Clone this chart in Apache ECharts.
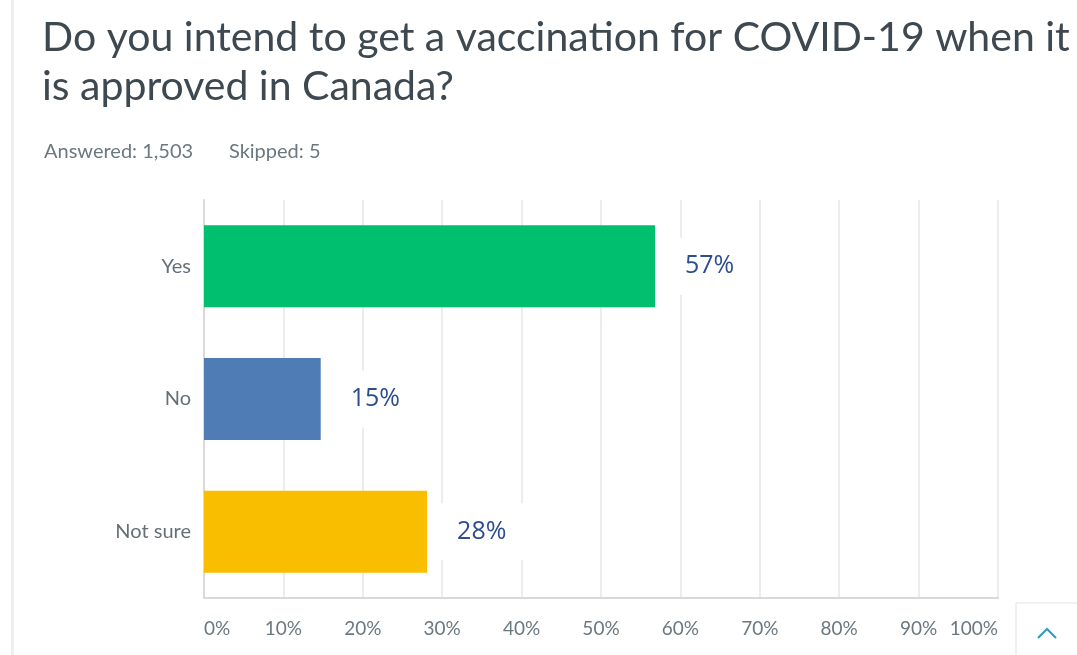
<!DOCTYPE html>
<html>
<head>
<meta charset="utf-8">
<script src="https://cdn.jsdelivr.net/npm/echarts@6/dist/echarts.min.js"></script>
<style>
  html, body { margin: 0; padding: 0; background: #fff; }
  #main { width: 1077px; height: 655px; }
</style>
</head>
<body>
<div id="main"></div>
<script>
// answer options and their share of responses (%)
var answers = ['Yes', 'No', 'Not sure'];
var shares = [56.8, 14.7, 28.1];
var barColors = ['#00bf6f', '#507cb6', '#f9be00'];
var xTicks = [0, 10, 20, 30, 40, 50, 60, 70, 80, 90, 100];

var myChart = echarts.init(document.getElementById('main'));

var option = {
  backgroundColor: '#fff',
  animation: false,
  title: [
    {
      text: 'Do you intend to get a vaccination for COVID-19 when it\nis approved in Canada?',
      left: 37,
      top: 8,
      textStyle: {
        fontFamily: 'Lato',
        fontSize: 41,
        fontWeight: 'normal',
        color: '#3d4850',
        lineHeight: 49
      }
    },
    {
      text: 'Answered: 1,503       Skipped: 5',
      left: 39,
      top: 137,
      textStyle: {
        fontFamily: 'Lato',
        fontSize: 20,
        fontWeight: 'normal',
        color: '#6b787f'
      }
    }
  ],
  grid: { left: 204, right: 79, top: 200, bottom: 57 },
  xAxis: {
    type: 'value',
    min: 0,
    max: 100,
    interval: 10,
    axisLine: { show: true, lineStyle: { color: '#d9d9d9', width: 2 } },
    axisTick: { show: false },
    splitLine: { show: true, lineStyle: { color: '#ececec', width: 2 } },
    axisLabel: {
      margin: 21,
      fontFamily: 'Lato',
      fontSize: 19,
      color: '#6b787f',
      alignMinLabel: 'left',
      alignMaxLabel: 'right',
      formatter: function (v) { return xTicks.indexOf(v) >= 0 ? v + '%' : ''; }
    }
  },
  yAxis: {
    type: 'category',
    data: answers,
    inverse: true,
    axisLine: { show: true, lineStyle: { color: '#d9d9d9', width: 2 } },
    axisTick: { show: false },
    splitLine: { show: false },
    axisLabel: {
      margin: 13,
      fontFamily: 'Lato',
      fontSize: 20,
      color: '#666f77'
    }
  },
  series: [
    {
      type: 'bar',
      barWidth: 82,
      data: shares.map(function (v, i) {
        return { value: v, itemStyle: { color: barColors[i] } };
      }),
      label: {
        show: true,
        position: 'right',
        distance: 12,
        formatter: function (p) { return Math.round(p.value) + '%'; },
        fontFamily: 'Open Sans',
        fontSize: 25,
        color: '#2e4d8f',
        backgroundColor: '#fff',
        padding: [16, 22, 16, 18]
      }
    }
  ],
  graphic: [
    {
      type: 'rect',
      shape: { x: 11, y: 0, width: 3, height: 655 },
      style: { fill: '#efefef' },
      silent: true
    },
    {
      type: 'rect',
      shape: { x: 1016, y: 603, width: 70, height: 60 },
      style: { fill: '#fff', stroke: '#e3e3e3', lineWidth: 1 },
      silent: true
    },
    {
      type: 'polyline',
      shape: { points: [[1038, 638], [1047, 629], [1056, 638]] },
      style: { stroke: '#2a9bc7', lineWidth: 2, fill: null },
      silent: true
    }
  ]
};

myChart.setOption(option);
</script>
</body>
</html>
